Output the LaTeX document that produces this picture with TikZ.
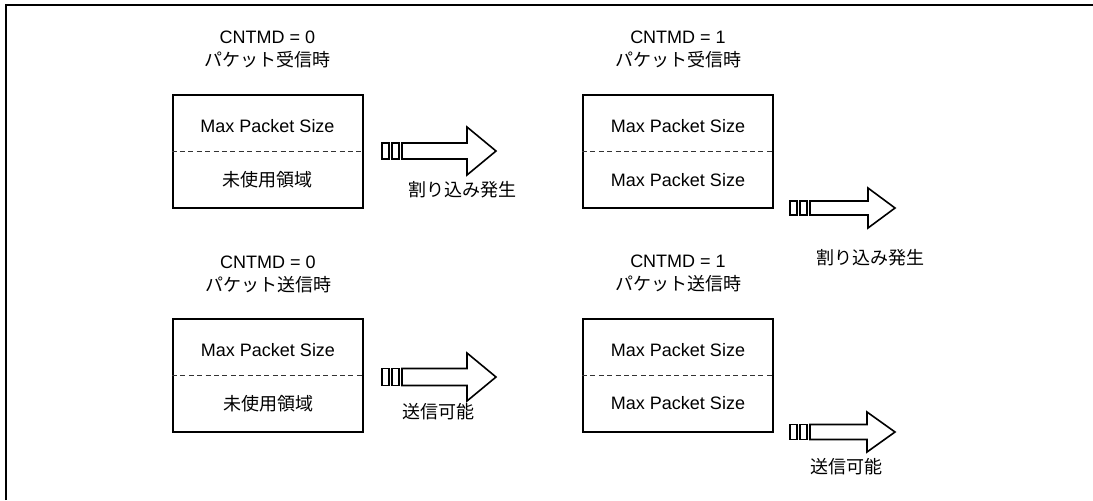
\documentclass[tikz,border=0pt]{standalone}
\usepackage{fontspec}
\setmainfont{Liberation Sans}
\newfontfamily\jpfont{Noto Sans CJK JP}
\usetikzlibrary{positioning, calc}

\begin{document}
\begin{tikzpicture}[
    x=0.5pt, y=-0.5pt,
    every node/.style={font=\fontsize{9}{11.5}\selectfont, inner sep=0pt},
    jp/.style={font=\fontsize{9}{11.5}\selectfont\jpfont},
    buffer/.style={rectangle, draw=black, line width=1pt, minimum width=95pt, minimum height=56.5pt},
    halfline/.style={draw=black!80, line width=0.5pt, dash pattern=on 2.5pt off 1.7pt},
    heading/.style={align=center},
    fifo/.style={draw=black, line width=0.9pt},
    flow/.style={draw=black, line width=0.8pt, fill=white}
]
\useasboundingbox (0,0) rectangle (1093,500);

% Frame
\draw[line width=1pt] (6,500) -- (6,5) -- (1093,5);

% Buffers
\node[buffer] (rx0) at (267.5,151.5) {};
\node[buffer] (rx1) at (678,151.5) {};
\node[buffer] (tx0) at (268,375.5) {};
\node[buffer] (tx1) at (678,375) {};

\foreach \b in {rx0, rx1, tx0, tx1}
  \draw[halfline] (\b.west) -- (\b.east);

% Headings
\node[heading] (rx0head) at ($(rx0.north)+(0,-45)$) {CNTMD = 0\\{\jpfont パケット受信時}};
\node[heading] (rx1head) at ($(rx1.north)+(0,-45)$) {CNTMD = 1\\{\jpfont パケット受信時}};
\node[heading] (tx0head) at ($(tx0.north)+(0,-44)$) {CNTMD = 0\\{\jpfont パケット送信時}};
\node[heading] (tx1head) at ($(tx1.north)+(0,-44)$) {CNTMD = 1\\{\jpfont パケット送信時}};

% Buffer contents
\node (rx0top) at ($(rx0.center)+(0,-25)$) {Max Packet Size};
\node[jp] (rx0bot) at ($(rx0.center)+(0,28.5)$) {未使用領域};
\node (rx1top) at ($(rx1.center)+(0,-25)$) {Max Packet Size};
\node (rx1bot) at ($(rx1.center)+(0,28.5)$) {Max Packet Size};
\node (tx0top) at ($(tx0.center)+(0,-25)$) {Max Packet Size};
\node[jp] (tx0bot) at ($(tx0.center)+(0,28.5)$) {未使用領域};
\node (tx1top) at ($(tx1.center)+(0,-25)$) {Max Packet Size};
\node (tx1bot) at ($(tx1.center)+(0,28.5)$) {Max Packet Size};

% Arrows
\foreach \n/\x/\y/\e/\t/\h/\s in {rxflag0/382/151/85/114/24/8, rxflag1/790/208/78/105/20/7,
                                  txflag0/382/377/85/114/24/8.5, txflag1/790/432/77/105/20/7.5}{
  \coordinate (\n) at (\x,\y);
  \draw[fifo] ($(\n)+(0,-\s)$) rectangle ($(\n)+(7,\s)$);
  \draw[fifo] ($(\n)+(10,-\s)$) rectangle ($(\n)+(17,\s)$);
  \draw[flow] ($(\n)+(20,-\s)$) -- ($(\n)+(\e,-\s)$) -- ($(\n)+(\e,-\h)$) -- ($(\n)+(\t,0)$)
    -- ($(\n)+(\e,\h)$) -- ($(\n)+(\e,\s)$) -- ($(\n)+(20,\s)$) -- cycle;
}

% Arrow labels
\node[jp] (rxnote0) at (462,190) {割り込み発生};
\node[jp] (rxnote1) at (870,258) {割り込み発生};
\node[jp] (txnote0) at (438,412) {送信可能};
\node[jp] (txnote1) at (846,467) {送信可能};

\end{tikzpicture}
\end{document}
